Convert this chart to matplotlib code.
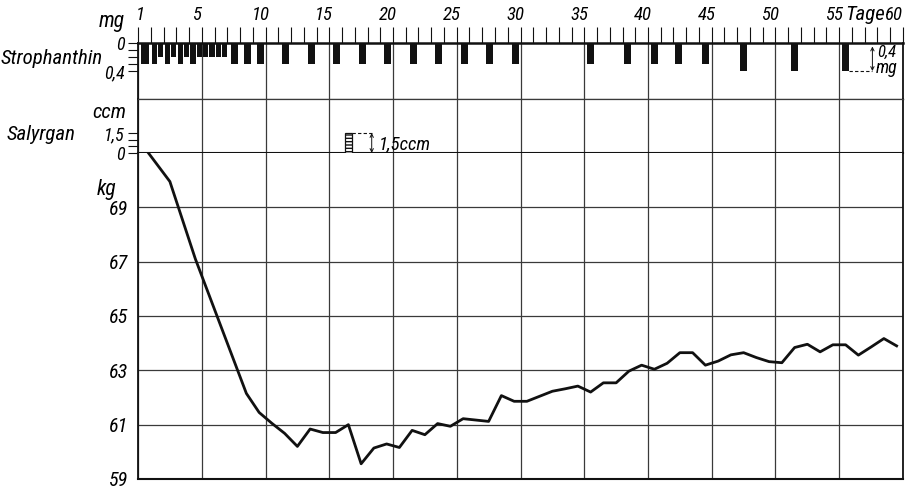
import matplotlib.pyplot as plt
from matplotlib import font_manager
from matplotlib.transforms import blended_transform_factory

# narrow italic lettering if one is installed, otherwise Liberation Sans a bit smaller
fonts = font_manager.fontManager.ttflist
narrow = None
for name in ['Liberation Sans Narrow', 'Roboto Condensed', 'Open Sans Condensed',
             'Noto Sans Condensed', 'Arial Narrow']:
    if any(f.name == name for f in fonts):
        narrow = name
        break
if narrow is None:
    narrow = 'Liberation Sans'
    SCALE = 0.85
else:
    SCALE = 1.0

plt.rcParams['font.family'] = [narrow, 'DejaVu Sans']
plt.rcParams['font.style'] = 'italic'

# day axis (label "1" sits on the start of the scale)
day_ticks = list(range(0, 61, 5))
day_labels = ['1', '5', '10', '15', '20', '25', '30', '35', '40', '45', '50', '55', '60']

# Strophanthin doses: position on the day scale, dose in mg
stroph_pos = [0.55, 1.27, 1.76, 2.29, 2.77, 3.33, 3.8, 4.3, 4.8, 5.3, 5.8, 6.3, 6.8,
              7.6, 8.6, 9.6, 11.6, 13.6, 15.6, 17.6, 19.6, 21.6, 23.6, 25.6, 27.6, 29.6,
              35.5, 38.4, 40.5, 42.4, 44.5, 47.5, 51.5, 55.5]
stroph_mg = [0.3, 0.3, 0.2, 0.3, 0.2, 0.3, 0.2, 0.3, 0.2, 0.2, 0.2, 0.2, 0.2,
             0.3, 0.3, 0.3, 0.3, 0.3, 0.3, 0.3, 0.3, 0.3, 0.3, 0.3, 0.3, 0.3,
             0.3, 0.3, 0.3, 0.3, 0.3, 0.4, 0.4, 0.4]

# Salyrgan injection (ccm)
salyrgan_pos = [16.5]
salyrgan_ccm = [1.5]

# body weight, measured on the given day
weight_day = [1, 3, 5, 9, 10, 11, 12, 13, 14, 15, 16, 17, 18, 19, 20, 21, 22, 23, 24, 25, 26,
              28, 29, 30, 31, 33, 34, 35, 36, 37, 38, 39, 40, 41, 42, 43, 44, 45, 46, 47, 48,
              49, 50, 51, 52, 53, 54, 55, 56, 57, 58, 59, 60]
weight_kg = [71.2, 69.95, 67.1, 62.15, 61.45, 61.05, 60.68, 60.2, 60.84, 60.71, 60.71, 61.0,
             59.56, 60.14, 60.29, 60.16, 60.79, 60.63, 61.04, 60.94, 61.22,
             61.12, 62.07, 61.86, 61.86, 62.23, 62.32, 62.42, 62.2, 62.54, 62.54, 62.97,
             63.19, 63.04, 63.26, 63.65, 63.65, 63.19, 63.34, 63.57, 63.65,
             63.47, 63.32, 63.28, 63.84, 63.96, 63.68, 63.94, 63.94, 63.56, 63.86, 64.17, 63.9]

W, H = 909, 488
INK = '#111111'
GRID = '#3a3a3a'

fig = plt.figure(figsize=(W / 100, H / 100), dpi=100)


def box(top, bottom):
    return [138 / W, 1 - bottom / H, (903 - 138) / W, (bottom - top) / H]


def fig_xy(x, y):
    return x / W, 1 - y / H


def fs(size):
    return size * SCALE


ax_st = fig.add_axes(box(43, 99))
ax_sal = fig.add_axes(box(99, 153))
ax = fig.add_axes(box(153, 479))

for a in (ax_st, ax_sal, ax):
    a.set_xlim(0, 60)
    a.set_xticks(day_ticks)
    a.grid(axis='x', color=GRID, lw=0.9)
    a.set_axisbelow(True)
    for s in a.spines.values():
        s.set_color(INK)
        s.set_linewidth(1.3)

# --- Strophanthin strip ---
ax_st.set_ylim(0.8, 0)
ax_st.xaxis.set_ticks_position('top')
ax_st.set_xticks(range(0, 61), minor=True)
ax_st.tick_params(axis='x', which='both', direction='out', length=11.5, width=0.8,
                  color=INK, top=True, bottom=False, labeltop=False, labelbottom=False)
widths = []
for i, p in enumerate(stroph_pos):
    gaps = [abs(p - q) for j, q in enumerate(stroph_pos) if j != i]
    widths.append(0.42 if min(gaps) < 0.7 else 0.56)
ax_st.bar(stroph_pos, stroph_mg, width=widths, color=INK, zorder=3)
ax_st.set_yticks([0, 0.1, 0.2, 0.3, 0.4], labels=['0', '', '', '', '0,4'], fontsize=fs(13))
ax_st.tick_params(axis='y', direction='out', length=7.2, width=0.8, color=INK, pad=2.5)
ax_st.spines['top'].set_linewidth(1.8)
ax_st.spines['bottom'].set_color(GRID)
ax_st.spines['bottom'].set_linewidth(0.9)

# scale mark 0,4 mg on the right
last = len(stroph_pos) - 1
ax_st.plot([stroph_pos[last] + widths[last] / 2, 57.6], [stroph_mg[last]] * 2,
           ls=(0, (3, 2)), color=INK, lw=0.8)
ax_st.annotate('', xy=(57.6, 0.05), xytext=(57.6, stroph_mg[last]),
               arrowprops=dict(arrowstyle='<->', lw=0.7, color=INK, mutation_scale=6,
                               shrinkA=0, shrinkB=0))
ax_st.text(58.0, 0.13, '0,4', fontsize=fs(12), va='center', ha='left')
ax_st.text(57.9, 0.36, 'mg', fontsize=fs(13), va='center', ha='left')

# --- Salyrgan strip ---
ax_sal.set_ylim(0, 4.05)
ax_sal.set_yticks([0, 0.5, 1.0, 1.5], labels=['0', '', '', '1,5'], fontsize=fs(13))
ax_sal.tick_params(axis='y', direction='out', length=7.2, width=0.8, color=INK, pad=2.5)
ax_sal.tick_params(axis='x', length=0, labelbottom=False)
ax_sal.spines['top'].set_color(GRID)
ax_sal.spines['top'].set_linewidth(0.9)
ax_sal.spines['bottom'].set_linewidth(1.5)
ax_sal.bar(salyrgan_pos, salyrgan_ccm, width=0.52, color='white', edgecolor=INK,
           hatch='-----', lw=0.9, zorder=3)
sal_right = salyrgan_pos[0] + 0.26
ax_sal.plot([sal_right, 18.33], [salyrgan_ccm[0]] * 2, ls=(0, (3, 2)), color=INK, lw=0.8)
ax_sal.annotate('', xy=(18.33, 0), xytext=(18.33, salyrgan_ccm[0]),
                arrowprops=dict(arrowstyle='<->', lw=0.7, color=INK, mutation_scale=6,
                                shrinkA=0, shrinkB=0))
ax_sal.text(18.9, 0.68, f'{salyrgan_ccm[0]:g}'.replace('.', ',') + 'ccm', fontsize=fs(13.5),
            va='center', ha='left')

# --- body weight ---
ax.set_ylim(59, 71)
ax.set_yticks(range(59, 70, 2))
ax.tick_params(axis='y', length=0, pad=7, labelsize=fs(14.5))
ax.tick_params(axis='x', length=0, labelbottom=False)
ax.grid(axis='y', color=GRID, lw=0.9)
ax.spines['top'].set_visible(False)
ax.spines['bottom'].set_linewidth(1.5)
ax.plot([d - 0.5 for d in weight_day], weight_kg, color=INK, lw=2.0, zorder=4)

# day labels above the top strip
tr = blended_transform_factory(ax_st.transData, fig.transFigure)
for d, lab in zip(day_ticks, day_labels):
    fig.text(max(0.2, min(59.3, d - 0.4)), fig_xy(0, 15)[1], lab, transform=tr,
             fontsize=fs(13.5), ha='center', va='center')
fig.text(57.0, fig_xy(0, 14)[1], 'Tage', transform=tr, fontsize=fs(15), ha='center', va='center')

# labels on the left
fig.text(*fig_xy(112, 22), 'mg', fontsize=fs(15.5), ha='center', va='center')
fig.text(*fig_xy(103, 58), 'Strophanthin', fontsize=fs(15), ha='right', va='center')
fig.text(*fig_xy(109, 113), 'ccm', fontsize=fs(15), ha='center', va='center')
fig.text(*fig_xy(7, 134), 'Salyrgan', fontsize=fs(15), ha='left', va='center')
fig.text(*fig_xy(107, 189), 'kg', fontsize=fs(15.5), ha='center', va='center')

fig.savefig('out.png', dpi=100, facecolor='white')
